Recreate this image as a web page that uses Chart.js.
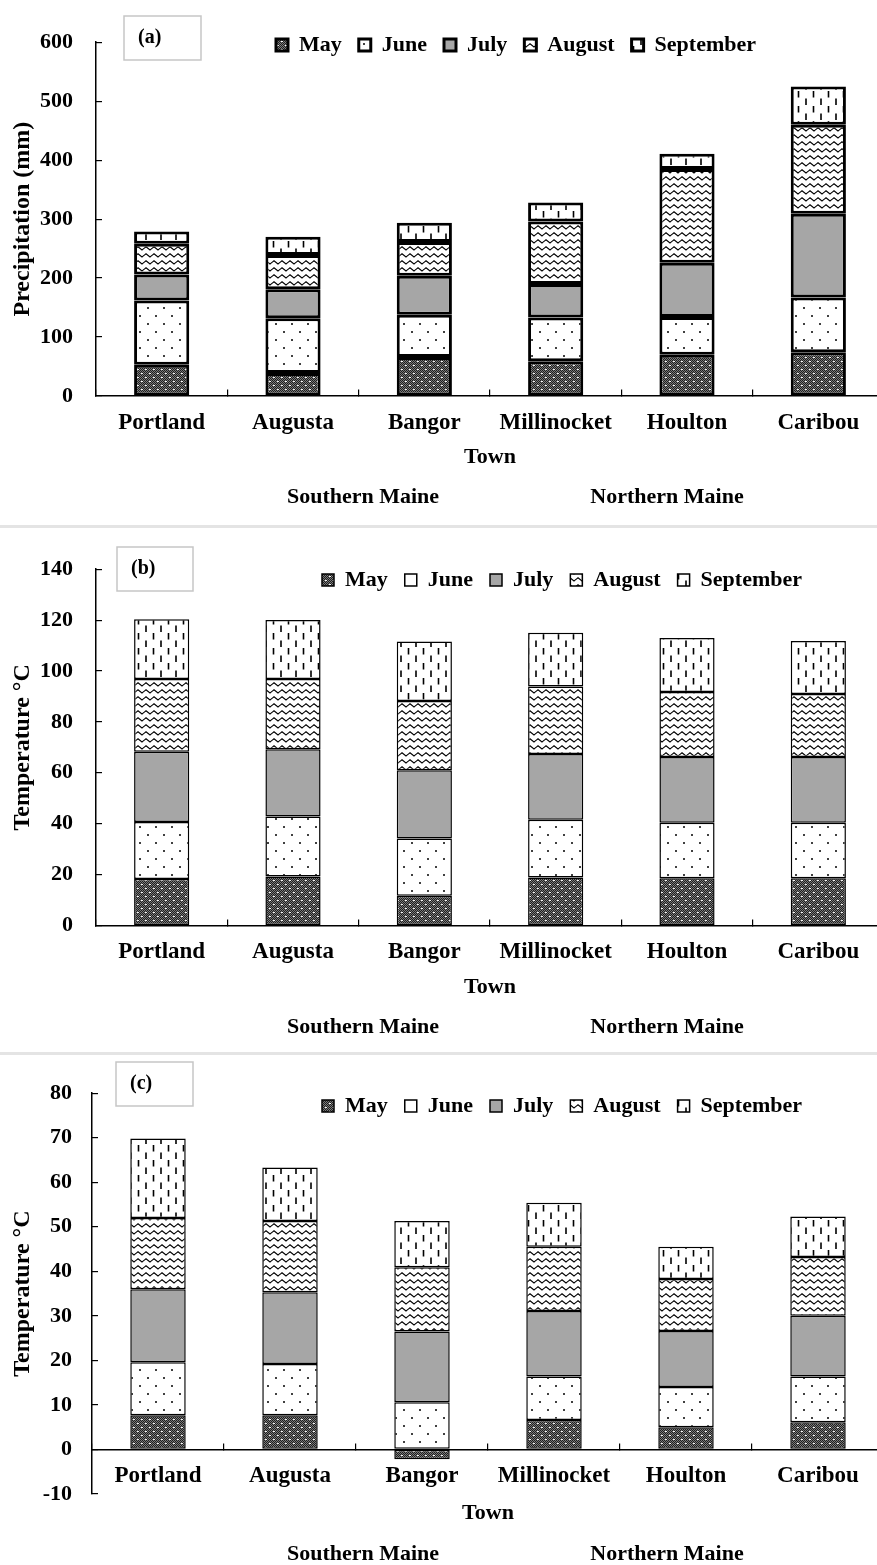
<!DOCTYPE html>
<html>
<head>
<meta charset="utf-8">
<script src="https://cdn.jsdelivr.net/npm/chart.js@4.4.1/dist/chart.umd.min.js"></script>
<style>
  body { margin: 0; background: #fff; }
  #page { position: relative; width: 877px; height: 1565px; overflow: hidden; background: #fff; }
  .panel { position: absolute; left: 0; width: 900px; }
  .sep { position: absolute; left: 0; width: 877px; height: 3px; background: #e4e4e4; }
</style>
</head>
<body>
<div id="page">
  <div class="panel" style="top:0;height:526px"><canvas id="chartA" width="900" height="526"></canvas></div>
  <div class="sep" style="top:525px"></div>
  <div class="panel" style="top:527px;height:527px"><canvas id="chartB" width="900" height="527"></canvas></div>
  <div class="sep" style="top:1052px"></div>
  <div class="panel" style="top:1054px;height:511px"><canvas id="chartC" width="900" height="511"></canvas></div>
</div>
<script>
const towns = ['Portland', 'Augusta', 'Bangor', 'Millinocket', 'Houlton', 'Caribou'];
const months = ['May', 'June', 'July', 'August', 'September'];

// (a) precipitation (mm)
const precipMay = [53, 39, 66, 59, 70, 74];
const precipJune = [109, 93, 72, 74, 64, 93];
const precipJuly = [44, 49, 66, 57, 92, 142];
const precipAugust = [52, 58, 57, 106, 159, 151];
const precipSeptember = [21, 31, 33, 32, 26, 65];

// (b) temperature
const tempBMay = [18.3, 19.3, 11.7, 18.9, 18.6, 18.6];
const tempBJune = [22.4, 23.5, 22.5, 22.7, 21.8, 21.8];
const tempBJuly = [27.6, 26.5, 26.8, 25.8, 25.8, 25.8];
const tempBAugust = [28.6, 27.6, 27.2, 26.5, 25.5, 24.8];
const tempBSeptember = [23.4, 23.1, 23.4, 21.1, 21.3, 20.8];

// (c) temperature
const tempCMay = [7.7, 7.7, -2.2, 6.6, 5.0, 6.1];
const tempCJune = [11.9, 11.5, 10.6, 9.8, 9.0, 10.3];
const tempCJuly = [16.4, 16.1, 15.9, 14.7, 12.6, 13.6];
const tempCAugust = [16.0, 16.0, 14.4, 14.4, 11.7, 13.2];
const tempCSeptember = [17.8, 12.0, 10.4, 9.9, 7.2, 9.1];

const serif = "'Liberation Serif', 'Times New Roman', serif";

function makePattern(kind) {
    const c = document.createElement('canvas');
    const g = c.getContext('2d');
    if (kind === 'May') {
        c.width = 8; c.height = 8;
        for (let y = 0; y < 8; y++) {
            for (let x = 0; x < 8; x++) {
                g.fillStyle = (x + y) % 2 ? '#7a7a7a' : '#1e1e1e';
                g.fillRect(x, y, 1, 1);
            }
        }
        g.fillStyle = '#f4f4f4';
        g.fillRect(1, 1, 2, 1); g.fillRect(5, 5, 2, 1);
    } else if (kind === 'June') {
        c.width = 16; c.height = 16;
        g.fillStyle = '#fff'; g.fillRect(0, 0, 16, 16);
        g.fillStyle = '#000';
        g.beginPath(); g.arc(4, 4, 1, 0, Math.PI * 2); g.fill();
        g.beginPath(); g.arc(12, 12, 1, 0, Math.PI * 2); g.fill();
    } else if (kind === 'August') {
        c.width = 8; c.height = 7;
        g.fillStyle = '#fff'; g.fillRect(0, 0, 8, 7);
        g.strokeStyle = '#000'; g.lineWidth = 1.1;
        g.beginPath();
        g.moveTo(-2, 5); g.lineTo(2, 1.8); g.lineTo(6, 5); g.lineTo(10, 1.8);
        g.stroke();
    } else if (kind === 'September') {
        c.width = 15; c.height = 15;
        g.fillStyle = '#fff'; g.fillRect(0, 0, 15, 15);
        g.strokeStyle = '#000'; g.lineWidth = 1.6;
        g.beginPath();
        g.moveTo(3.5, 1); g.lineTo(3.5, 7.5);
        g.moveTo(11, 8.5); g.lineTo(11, 15);
        g.stroke();
    }
    return g.createPattern(c, 'repeat');
}

const fills = [makePattern('May'), makePattern('June'), '#a6a6a6', makePattern('August'), makePattern('September')];

// draws the (a)/(b)/(c) box, the region names; the legend sits inside the plot
const panelDecor = {
    id: 'panelDecor',
    beforeLayout(chart) {
        const lg = chart.legend;
        if (!lg || lg._flat) return;
        const fit = lg.fit;
        lg.fit = function () {
            fit.call(this);
            this.height = 0;
        };
        lg._flat = true;
    },
    afterLayout(chart, args, o) {
        const lg = chart.legend;
        if (!lg) return;
        const pad = lg.options.labels.padding;
        lg.left = o.legendX - pad;
        lg.right = chart.width;
        lg.width = lg.right - lg.left;
        lg.top = o.legendY - pad - 11;
        lg.bottom = lg.top + 2 * pad + 30;
    },
    afterDraw(chart, args, o) {
        const ctx = chart.ctx;
        ctx.save();
        ctx.strokeStyle = '#c6c6c6';
        ctx.lineWidth = 1.5;
        ctx.strokeRect(o.box[0], o.box[1], o.box[2], o.box[3]);
        ctx.fillStyle = '#000';
        ctx.font = 'bold 20px ' + serif;
        ctx.textBaseline = 'middle';
        ctx.textAlign = 'left';
        ctx.fillText(o.tag, o.box[0] + 14, o.box[1] + o.box[3] / 2);
        const zero = chart.scales.y.getPixelForValue(0);
        ctx.font = 'bold 22px ' + serif;
        ctx.textAlign = 'center';
        ctx.fillText('Southern Maine', 363, zero + o.regionDy);
        ctx.fillText('Northern Maine', 667, zero + o.regionDy);
        ctx.restore();
    }
};

function buildChart(id, p) {
    const datasets = months.map((m, i) => ({
        label: m,
        data: p.series[i],
        backgroundColor: fills[i],
        borderColor: '#000',
        borderWidth: p.borderWidth,
        borderSkipped: false,
        barPercentage: 0.42,
        categoryPercentage: 1
    }));

    return new Chart(document.getElementById(id), {
        type: 'bar',
        data: { labels: towns, datasets: datasets },
        options: {
            responsive: false,
            animation: false,
            layout: { padding: { top: p.top, bottom: p.bottom, left: 0, right: 16 } },
            scales: {
                x: {
                    stacked: true,
                    position: { y: 0 },
                    offset: true,
                    grid: { drawOnChartArea: false, offset: true, tickLength: -7, color: '#000', lineWidth: 1.2 },
                    border: { color: '#000', width: 1.5 },
                    ticks: { color: '#000', padding: 20, maxRotation: 0, autoSkip: false, font: { family: serif, size: 23, weight: 'bold' } },
                    title: { display: true, text: 'Town', color: '#000', padding: 0, font: { family: serif, size: 22, weight: 'bold' } },
                    afterFit: s => { s.height = p.xHeight; }
                },
                y: {
                    stacked: true,
                    min: p.min,
                    max: p.max,
                    grid: { drawOnChartArea: false, tickLength: -6, color: '#000', lineWidth: 1.2 },
                    border: { color: '#000', width: 1.5 },
                    ticks: { stepSize: p.step, color: '#000', padding: p.tickPad, font: { family: serif, size: 22, weight: 'bold' } },
                    title: { display: true, text: p.yTitle, color: '#000', padding: { top: 8, bottom: 0 }, font: { family: serif, size: 24, weight: 'bold' } },
                    afterFit: s => { s.width = p.left; }
                }
            },
            plugins: {
                legend: {
                    position: 'top',
                    align: 'start',
                    labels: { color: '#000', boxWidth: 12, boxHeight: 12, padding: 17, font: { family: serif, size: 22, weight: 'bold' } }
                },
                tooltip: { enabled: false },
                panelDecor: p.decor
            }
        },
        plugins: [panelDecor]
    });
}

buildChart('chartA', {
    series: [precipMay, precipJune, precipJuly, precipAugust, precipSeptember],
    borderWidth: 3, top: 22, bottom: 130, left: 96, xHeight: 75, tickPad: 29,
    min: 0, max: 600, step: 100, yTitle: 'Precipitation (mm)',
    decor: { tag: '(a)', box: [124, 16, 77, 44], regionDy: 101, legendX: 276, legendY: 45 }
});

buildChart('chartB', {
    series: [tempBMay, tempBJune, tempBJuly, tempBAugust, tempBSeptember],
    borderWidth: 1.5, top: 24, bottom: 128.5, left: 96, xHeight: 75, tickPad: 29,
    min: 0, max: 140, step: 20, yTitle: 'Temperature °C',
    decor: { tag: '(b)', box: [117, 20, 76, 44], regionDy: 101.5, legendX: 322, legendY: 53 }
});

buildChart('chartC', {
    series: [tempCMay, tempCJune, tempCJuly, tempCAugust, tempCSeptember],
    borderWidth: 1.5, top: 22, bottom: 71, left: 92, xHeight: 77, tickPad: 26,
    min: -10, max: 80, step: 10, yTitle: 'Temperature °C',
    decor: { tag: '(c)', box: [116, 8, 77, 44], regionDy: 105, legendX: 322, legendY: 52 }
});
</script>
</body>
</html>
